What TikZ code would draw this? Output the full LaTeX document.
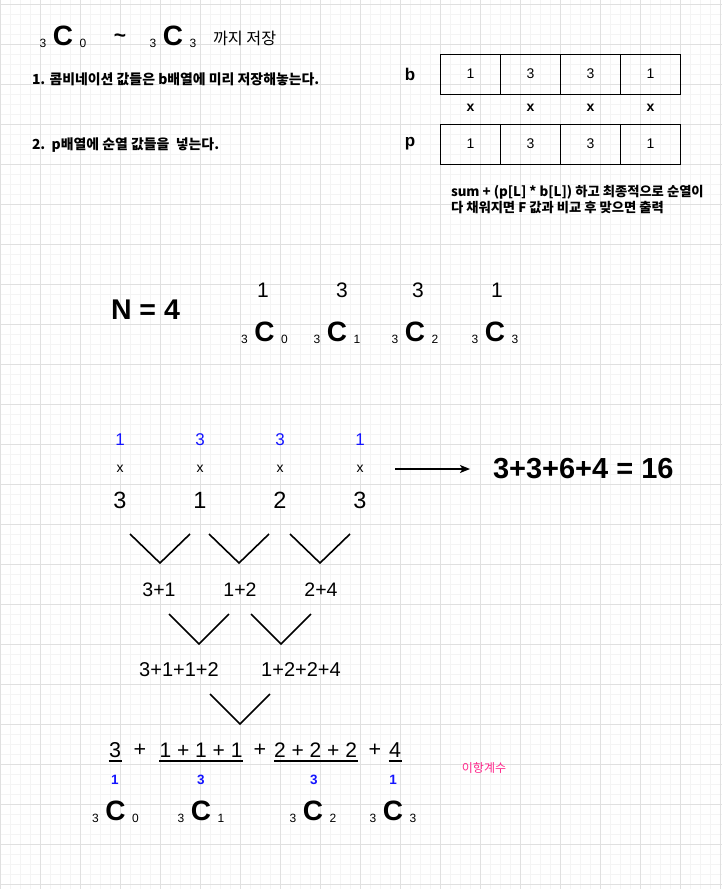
\documentclass[tikz,border=0pt]{standalone}
\usepackage{fontspec}
\setmainfont{Liberation Sans}
\newfontfamily\kr{Noto Sans CJK KR}
\usetikzlibrary{arrows.meta}
\definecolor{gridminor}{RGB}{244,244,244}
\definecolor{gridmajor}{RGB}{224,224,224}
\definecolor{numblue}{RGB}{20,20,255}
\definecolor{hotpink}{RGB}{255,40,140}
\newcommand{\fs}[1]{\fontsize{#1}{#1}\selectfont}
\tikzset{
  txt/.style={inner sep=0pt, outer sep=0pt},
  sub/.style={txt, font=\fs{12}},
  bigC/.style={txt, font=\fs{28}\bfseries},
  vline/.style={line width=1.6pt, black},
  cellbox/.style={draw=black, line width=1pt, minimum width=60pt, minimum height=40pt, inner sep=0pt, font=\fs{14}},
  uline/.style={line width=2pt, black},
}
\newcommand{\combo}[4]{%
  \node[sub, anchor=base] (#1l) at (#2-20, #3+2) {3};
  \node[bigC, anchor=base] (#1c) at (#2, #3) {C};
  \node[sub, anchor=base] (#1r) at (#2+20, #3+2) {#4};
}
\begin{document}
\begin{tikzpicture}[x=1pt, y=-1pt]
\useasboundingbox (0,0) rectangle (722,889);
\fill[white] (0,0) rectangle (722,889);
% grid
\foreach \x in {0,10,...,720} \draw[gridminor, line width=1pt] (\x,0) -- (\x,889);
\foreach \y in {4,14,...,884} \draw[gridminor, line width=1pt] (0,\y) -- (722,\y);
\foreach \x in {0,40,...,720} \draw[gridmajor, line width=1pt] (\x,0) -- (\x,889);
\foreach \y in {4,44,...,884} \draw[gridmajor, line width=1pt] (0,\y) -- (722,\y);

% ---- top title ----
\combo{t0}{63}{45}{0}
\node[txt, font=\fs{21}\bfseries] (tilde) at (120,38) {\char`~};
\combo{t3}{173}{45}{3}
\node[txt, anchor=west, font=\kr\fs{16.2}] (kkaji) at (213,38.5) {까지 저장};

\node[txt, anchor=west, font=\kr\fs{13.9}\bfseries] (step1) at (32,79.5) {1. 콤비네이션 값들은 b배열에 미리 저장해놓는다.};
\node[txt, anchor=west, font=\kr\fs{13.9}\bfseries] (step2) at (32,145) {2.\ \ p배열에 순열 값들을\ \ 넣는다.};

% ---- arrays ----
\node[txt, font=\fs{17}\bfseries] (blab) at (410,74) {b};
\node[txt, font=\fs{17}\bfseries] (plab) at (410,144) {p};
\foreach \i/\v [count=\k] in {0/1,1/3,2/3,3/1} {
  \node[cellbox] (b\k) at (470.5+60*\i,74) {\v};
  \node[cellbox] (p\k) at (470.5+60*\i,144) {\v};
  \node[txt, font=\fs{14}\bfseries] (bx\k) at (470.5+60*\i,108) {x};
}
\node[txt, anchor=west, font=\kr\fs{13.3}\bfseries] (sum1) at (451,192) {sum + (p[L] * b[L]) 하고 최종적으로 순열이};
\node[txt, anchor=west, font=\kr\fs{13.3}\bfseries] (sum2) at (451,207.5) {다 채워지면 F 값과 비교 후 맞으면 출력};

% ---- N = 4 ----
\node[txt, anchor=west, font=\fs{28.5}\bfseries] (N) at (111,309.5) {N = 4};
\foreach \x/\v [count=\k] in {263/1,342/3,418/3,497/1}
  \node[txt, font=\fs{21}] (cn\k) at (\x,290.5) {\v};
\combo{m0}{264.5}{341}{0}
\combo{m1}{337}{341}{1}
\combo{m2}{415}{341}{2}
\combo{m3}{495}{341}{3}

% ---- product row ----
\foreach \x/\a/\b [count=\k] in {120/1/3,200/3/1,280/3/2,360/1/3} {
  \node[txt, font=\fs{17}, text=numblue] (bl\k) at (\x,440) {\a};
  \node[txt, font=\fs{14}] (mx\k) at (\x,469) {x};
  \node[txt, font=\fs{23.5}] (pv\k) at (\x,500) {\b};
}
\coordinate (arrS) at (395,469);
\coordinate (arrE) at (470,469);
\draw[line width=1.5pt, -{Stealth[length=10pt,width=8pt,inset=2.5pt]}] (arrS) -- (arrE);
\node[txt, anchor=west, font=\fs{29}\bfseries] (res) at (493,468.5) {3+3+6+4 = 16};

% ---- V shapes ----
\draw[vline] (130,534) -- (160,563) -- (190,534);
\draw[vline] (209,534) -- (239,563) -- (269,534);
\draw[vline] (290,534) -- (320,563) -- (350,534);
\node[txt, font=\fs{19.5}] (s1) at (159,590) {3+1};
\node[txt, font=\fs{19.5}] (s2) at (240,590) {1+2};
\node[txt, font=\fs{19.5}] (s3) at (321,590) {2+4};
\draw[vline] (169,614) -- (199,644) -- (229,614);
\draw[vline] (251,614) -- (281,644) -- (311,614);
\node[txt, font=\fs{20}] (s4) at (179,670) {3+1+1+2};
\node[txt, font=\fs{20}] (s5) at (301,670) {1+2+2+4};
\draw[vline] (210,694) -- (240,724) -- (270,694);

% ---- bottom sum ----
\node[txt, font=\fs{21.5}] (e1) at (115,750) {3};
\node[txt, font=\fs{21.5}] (pl1) at (140,750) {+};
\node[txt, font=\fs{21}] (e2) at (201,750) {1 + 1 + 1};
\node[txt, font=\fs{21.5}] (pl2) at (260,750) {+};
\node[txt, font=\fs{21}] (e3) at (315.5,750) {2 + 2 + 2};
\node[txt, font=\fs{21.5}] (pl3) at (375,750) {+};
\node[txt, font=\fs{21.5}] (e4) at (395,750) {4};
\draw[line width=1.5pt] (108.5,761) -- (121.5,761);
\draw[uline] (159,761) -- (242.5,761);
\draw[uline] (274,761) -- (357.5,761);
\draw[line width=1.5pt] (388.5,761) -- (401.5,761);

\foreach \x/\v [count=\k] in {115/1,201/3,314/3,393/1}
  \node[txt, font=\fs{13.5}\bfseries, text=numblue] (bb\k) at (\x,780) {\v};
\node[txt, font=\kr\fs{12}, text=hotpink] (ihang) at (484,768) {이항계수};

\combo{q0}{115.5}{820}{0}
\combo{q1}{201}{820}{1}
\combo{q2}{313}{820}{2}
\combo{q3}{393}{820}{3}
\end{tikzpicture}
\end{document}
